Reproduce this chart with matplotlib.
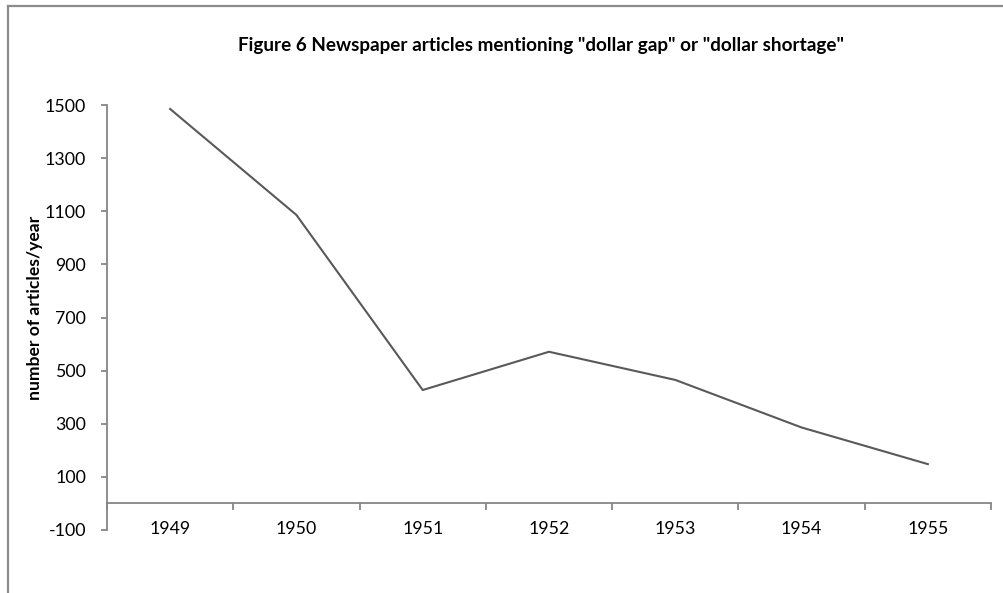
import matplotlib
matplotlib.use("Agg")
import matplotlib.pyplot as plt
from matplotlib.lines import Line2D
from matplotlib.ticker import FixedLocator, NullFormatter

years = ["1949", "1950", "1951", "1952", "1953", "1954", "1955"]
articles = [1485, 1086, 427, 571, 465, 286, 148]
y_ticks = [-100, 100, 300, 500, 700, 900, 1100, 1300, 1500]

title = 'Figure 6 Newspaper articles mentioning "dollar gap" or "dollar shortage"'
ylabel = "number of articles/year"

plt.rcParams["font.family"] = ["Lato", "DejaVu Sans"]

W, H = 1004, 593
fig = plt.figure(figsize=(W / 100, H / 100), dpi=100)
ax = fig.add_axes([107 / W, 1 - 530 / H, (991 - 107) / W, (530 - 105) / H])

x = list(range(len(years)))
ax.plot(x, articles, color="#595959", lw=1.5, solid_joinstyle="round")

axis_col = "#868686"
ax.set_xlim(-0.5, len(years) - 0.5)
ax.set_ylim(-100, 1500)
ax.set_yticks(y_ticks)
ax.set_yticklabels([str(v) for v in y_ticks])

ax.set_xticks(x)
ax.set_xticklabels(years)
ax.xaxis.set_minor_locator(FixedLocator([i + 0.5 for i in range(-1, len(years))]))
ax.xaxis.set_minor_formatter(NullFormatter())

for side in ("top", "right"):
    ax.spines[side].set_visible(False)
ax.spines["bottom"].set_position(("data", 0))
ax.spines["left"].set_color(axis_col)
ax.spines["bottom"].set_color(axis_col)
ax.spines["left"].set_linewidth(1.3)
ax.spines["bottom"].set_linewidth(1.3)

ax.tick_params(axis="y", direction="out", length=4, width=1.3, color=axis_col,
               labelsize=12.8, pad=11, labelcolor="#000000")
ax.tick_params(axis="x", which="major", length=0, labelsize=12.8, pad=13,
               labelcolor="#000000")
ax.tick_params(axis="x", which="minor", direction="out", length=5, width=1.3,
               color=axis_col)

ax.set_ylabel(ylabel, fontsize=12.6, fontweight="bold")
ax.yaxis.set_label_coords((43 - 107) / (991 - 107), 1 - (308 - 105) / (530 - 105))

fig.text(541 / W, 1 - 45 / H, title, ha="center", va="center",
         fontsize=13.6, fontweight="bold")

# chart frame
frame = "#8c8c8c"
fig.add_artist(Line2D([8 / W, 8 / W], [0, 1 - 5.5 / H], transform=fig.transFigure,
                      color=frame, lw=1.6))
fig.add_artist(Line2D([8 / W, 1], [1 - 5.5 / H, 1 - 5.5 / H], transform=fig.transFigure,
                      color=frame, lw=1.6))

fig.savefig("out.png", dpi=100, facecolor="white")
